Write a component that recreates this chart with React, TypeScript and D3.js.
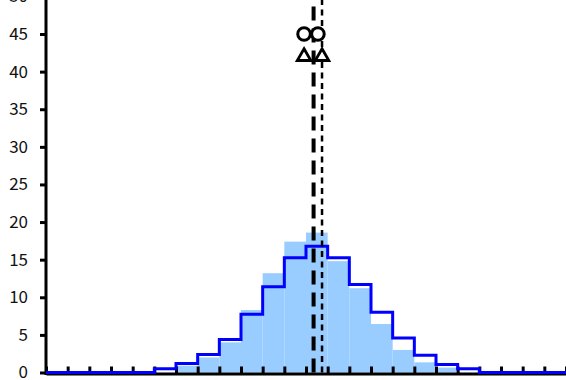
import React, { useEffect, useRef } from "react";
import * as d3 from "d3";

// bins are in "class" units, 0..24, each one tick wide
const binCount = 24;
const observed = [0, 0, 0, 0, 0, 0, 0.9, 2.0, 4.0, 8.3, 13.2, 17.4, 18.6, 14.8, 11.2, 6.45, 3.0, 1.35, 0.65, 0, 0, 0, 0, 0];
const expected = [0, 0, 0, 0, 0, 0.5, 1.2, 2.4, 4.4, 7.75, 11.4, 15.25, 16.8, 15.25, 11.7, 8.0, 4.6, 2.3, 1.05, 0.5, 0, 0, 0, 0];
const yTicks = [0, 5, 10, 15, 20, 25, 30, 35, 40, 45, 50];

// reference lines (thick = first, thin = second)
const refLines = [
  { x: 12.35, width: 4, dash: "14,8" },
  { x: 12.74, width: 2.5, dash: "6,4.5" },
];
const circleMarks = [
  { x: 11.91, y: 45 },
  { x: 12.55, y: 45 },
];
const triangleMarks = [
  { x: 11.91, y: 42 },
  { x: 12.74, y: 42 },
];

function App() {
  const ref = useRef<SVGSVGElement | null>(null);

  useEffect(() => {
    const width = 566;
    const height = 380;
    const svg = d3.select(ref.current);
    svg.selectAll("*").remove();

    const xScale = d3.scaleLinear().domain([0, binCount]).range([46, 566]);
    const yScale = d3.scaleLinear().domain([0, 50]).range([372.5, -3.6]);

    // histogram bars
    svg
      .append("g")
      .selectAll("rect")
      .data(observed)
      .join("rect")
      .attr("x", (d, i) => xScale(i))
      .attr("width", xScale(1) - xScale(0))
      .attr("y", (d) => yScale(d))
      .attr("height", (d) => yScale(0) - yScale(d))
      .attr("fill", "#99ccff");

    // y axis
    const yAxis = d3
      .axisLeft(yScale)
      .tickValues(yTicks)
      .tickSize(6)
      .tickSizeOuter(0)
      .tickPadding(12);

    svg
      .append("g")
      .attr("transform", "translate(46,0)")
      .call(yAxis)
      .call((g) => g.select(".domain").attr("stroke-width", 3).attr("d", "M0,-10V375"))
      .call((g) => g.selectAll(".tick line").attr("stroke-width", 3))
      .call((g) =>
        g
          .selectAll(".tick text")
          .attr("font-family", "'Noto Sans CJK JP', sans-serif")
          .attr("font-size", 17)
          .attr("fill", "#111")
      );

    // x axis, ticks pointing inward, no labels
    const xAxis = d3
      .axisBottom(xScale)
      .tickValues(d3.range(0, binCount + 1))
      .tickSize(-7)
      .tickSizeOuter(0)
      .tickFormat(() => "");

    svg
      .append("g")
      .attr("transform", "translate(0,373.5)")
      .call(xAxis)
      .call((g) => g.select(".domain").attr("stroke-width", 3))
      .call((g) => g.selectAll(".tick line").attr("stroke-width", 3));

    // expected distribution as a step line
    const stepPts: [number, number][] = expected.map((v, i) => [i, v]);
    stepPts.push([binCount, expected[binCount - 1]]);
    const line = d3
      .line<[number, number]>()
      .curve(d3.curveStepAfter)
      .x((d) => xScale(d[0]))
      .y((d) => yScale(d[1]));

    svg
      .append("path")
      .attr("fill", "none")
      .attr("stroke", "#0000ff")
      .attr("stroke-width", 3)
      .attr("d", line(stepPts));

    // dashed reference lines
    svg
      .append("g")
      .selectAll("line")
      .data(refLines)
      .join("line")
      .attr("x1", (d) => xScale(d.x))
      .attr("x2", (d) => xScale(d.x))
      .attr("y1", yScale(0))
      .attr("y2", -10)
      .attr("stroke", "black")
      .attr("stroke-width", (d) => d.width)
      .attr("stroke-dasharray", (d) => d.dash);

    svg
      .append("g")
      .selectAll("circle")
      .data(circleMarks)
      .join("circle")
      .attr("cx", (d) => xScale(d.x))
      .attr("cy", (d) => yScale(d.y))
      .attr("r", 6.3)
      .attr("fill", "white")
      .attr("stroke", "black")
      .attr("stroke-width", 3);

    const tri = d3.symbol().type(d3.symbolTriangle).size(80);
    svg
      .append("g")
      .selectAll("path")
      .data(triangleMarks)
      .join("path")
      .attr("transform", (d) => `translate(${xScale(d.x)},${yScale(d.y)})`)
      .attr("d", tri())
      .attr("fill", "white")
      .attr("stroke", "black")
      .attr("stroke-width", 2.8);

    svg.attr("width", width).attr("height", height);
  }, []);

  return (
    <svg
      ref={ref}
      width={566}
      height={380}
      style={{ position: "absolute", left: 0, top: 0, background: "white" }}
    />
  );
}

export default App;
